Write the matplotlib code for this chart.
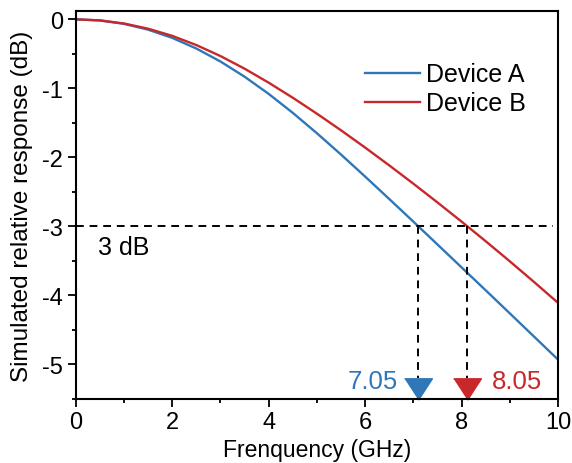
import numpy as np
from matplotlib import pyplot as plt
from matplotlib.ticker import MultipleLocator

plt.rcParams['font.family'] = ['Liberation Sans', 'DejaVu Sans']
plt.rcParams['axes.unicode_minus'] = False

# values
freq = [0, 0.5, 1, 1.5, 2, 2.5, 3, 3.5, 4, 4.5, 5,
        5.5, 6, 6.5, 7, 7.5, 8, 8.5, 9, 9.5, 10]
device_a = [0, -0.016, -0.065, -0.149, -0.268, -0.422, -0.610, -0.830, -1.079, -1.354, -1.649,
            -1.958, -2.277, -2.602, -2.930, -3.261, -3.593, -3.925, -4.259, -4.594, -4.929]
device_b = [0, -0.015, -0.06, -0.135, -0.239, -0.372, -0.531, -0.714, -0.917, -1.135, -1.366,
            -1.607, -1.857, -2.115, -2.38, -2.652, -2.93, -3.214, -3.505, -3.803, -4.107]
cutoff_x = [7.1, 8.12]
cutoff_labels = ["7.05", "8.05"]
level_3db = -3

blue = "#2f77b8"
red = "#c8282a"

fig = plt.figure(figsize=(5.72, 4.64), dpi=100)
ax = fig.add_axes([0.1323, 0.138, 0.8432, 0.836])

ax.plot(freq, device_a, color=blue, lw=1.7, label="Device A")
ax.plot(freq, device_b, color=red, lw=1.7, label="Device B")

ax.set_xlim(0, 10)
ax.set_ylim(-5.5, 0.12)

# 3 dB guide lines
ax.plot([0, 9.9], [level_3db, level_3db], color="black", lw=1.4, ls=(0, (4, 3)))
tri = [(-1.3, 1), (1.3, 1), (0, -1)]
for xc, col, lab, off in zip(cutoff_x, [blue, red], cutoff_labels, [-0.43, 0.5]):
    ax.plot([xc, xc], [level_3db, -5.2], color="black", lw=1.4, ls=(0, (4, 3)))
    ax.plot([xc], [-5.356], marker=tri, ms=20, color=col, ls="none", clip_on=False)
    ax.text(xc + off, -5.24, lab, color=col, fontsize=18.5,
            ha="right" if off < 0 else "left", va="center")

ax.text(0.47, -3.3, "3 dB", fontsize=18, ha="left", va="center")

ax.set_xlabel("Frenquency (GHz)", fontsize=16.5, labelpad=3)
ax.set_ylabel("Simulated relative response (dB)", fontsize=17.5, labelpad=7)

ax.xaxis.set_major_locator(MultipleLocator(2))
ax.xaxis.set_minor_locator(MultipleLocator(1))
ax.yaxis.set_major_locator(MultipleLocator(1))
ax.yaxis.set_minor_locator(MultipleLocator(0.5))
ax.tick_params(which="both", direction="out", width=1.3, labelsize=17, top=False, right=False)
ax.tick_params(which="major", length=5.5)
ax.tick_params(which="minor", length=3)
for s in ax.spines.values():
    s.set_linewidth(1.5)

ax.legend(loc="upper left", bbox_to_anchor=(0.573, 0.9), frameon=False, fontsize=18,
          borderpad=0, handlelength=2.2, handletextpad=0.25, labelspacing=0.2)

fig.savefig("out.png", dpi=100)
